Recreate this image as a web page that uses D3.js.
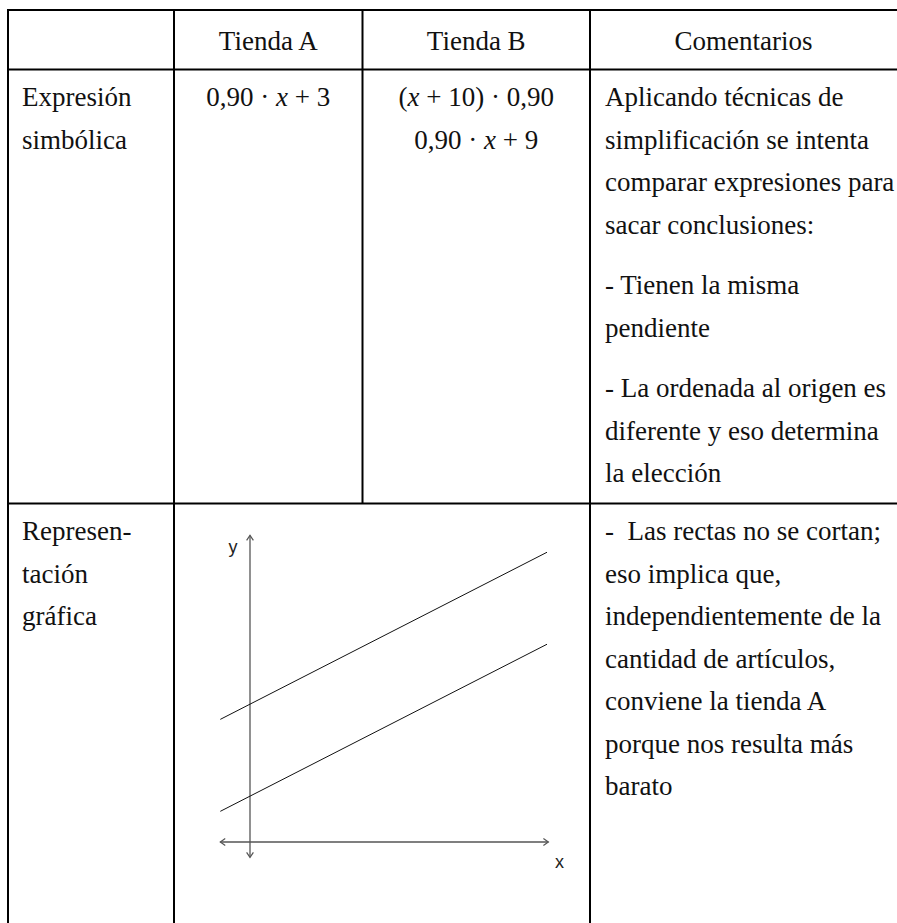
<!DOCTYPE html>
<html>
<head>
<meta charset="utf-8">
<script src="https://cdn.jsdelivr.net/npm/d3@7"></script>
<style>
  html, body { margin: 0; padding: 0; background: #fff; }
  svg { display: block; }
  text { white-space: pre; }
</style>
</head>
<body>
<svg id="chart" width="897" height="923"></svg>
<script>
// ---------- data ----------
const headers = ["", "Tienda A", "Tienda B", "Comentarios"];
const rowLabels = [["Expresión", "simbólica"], ["Represen-", "tación", "gráfica"]];
// math expressions: segments [text, italic]
const exprA = [[["0,90 · ", false], ["x", true], [" + 3", false]]];
const exprB = [
  [["(", false], ["x", true], [" + 10) · 0,90", false]],
  [["0,90 · ", false], ["x", true], [" + 9", false]]
];
const comments1 = [
  ["Aplicando técnicas de", "simplificación se intenta", "comparar expresiones para", "sacar conclusiones:"],
  ["- Tienen la misma", "pendiente"],
  ["- La ordenada al origen es", "diferente y eso determina", "la elección"]
];
const comments2 = [
  ["-  Las rectas no se cortan;", "eso implica que,", "independientemente de la", "cantidad de artículos,", "conviene la tienda A", "porque nos resulta más", "barato"]
];
// graph series (endpoints of the drawn lines)
const lineA = [[-1.1, 2.0], [11.0, 12.9]];   // 0,90·x + 3
const lineB = [[-1.1, 8.0], [11.0, 18.9]];   // 0,90·x + 9
const xAxisExtent = [-1.1, 11.05];
const yAxisExtent = [-1.0, 20.0];
const axisLabels = ["x", "y"];

// ---------- layout ----------
const svg = d3.select("#chart");
const colX = [8, 174, 362.5, 590, 905];
const rowY = [10, 69.5, 503.5, 940];
const fontSerif = "'Liberation Serif', 'Times New Roman', serif";
const fontSans = "'Liberation Sans', Arial, sans-serif";
const fs = 27;
const pitch = 42.5;
const paraGap = 18;
const firstOff = 36.5;
const padL = 14;

// table grid
const g = svg.append("g").attr("stroke", "#000").attr("stroke-width", 2);
[rowY[0], rowY[1], rowY[2]].forEach(y => {
  g.append("line").attr("x1", colX[0] - 1).attr("x2", colX[4]).attr("y1", y).attr("y2", y);
});
g.append("line").attr("x1", colX[0]).attr("x2", colX[0]).attr("y1", rowY[0] - 1).attr("y2", rowY[3]);
g.append("line").attr("x1", colX[1]).attr("x2", colX[1]).attr("y1", rowY[0]).attr("y2", rowY[3]);
g.append("line").attr("x1", colX[2]).attr("x2", colX[2]).attr("y1", rowY[0]).attr("y2", rowY[2]);
g.append("line").attr("x1", colX[3]).attr("x2", colX[3]).attr("y1", rowY[0]).attr("y2", rowY[3]);

const T = svg.append("g").attr("font-family", fontSerif).attr("font-size", fs).attr("fill", "#111");

// headers
headers.forEach((h, i) => {
  if (!h) return;
  const cx = i === 3 ? (colX[3] + 897) / 2 : (colX[i] + colX[i + 1]) / 2;
  T.append("text").attr("x", cx).attr("y", 50).attr("text-anchor", "middle").text(h);
});

// row labels
rowLabels.forEach((lines, r) => {
  lines.forEach((s, k) => {
    T.append("text").attr("x", colX[0] + padL).attr("y", rowY[r + 1] + firstOff + k * pitch).text(s);
  });
});

// math expressions
function drawExpr(list, cx, top) {
  list.forEach((segs, k) => {
    const t = T.append("text").attr("x", cx).attr("y", top + firstOff + k * pitch).attr("text-anchor", "middle");
    segs.forEach(([s, it]) => {
      t.append("tspan").attr("font-style", it ? "italic" : "normal").text(s);
    });
  });
}
drawExpr(exprA, (colX[1] + colX[2]) / 2, rowY[1]);
drawExpr(exprB, (colX[2] + colX[3]) / 2, rowY[1]);

// comments
function drawParas(paras, top) {
  let y = top + firstOff;
  paras.forEach((p, pi) => {
    if (pi > 0) y += paraGap;
    p.forEach(s => {
      T.append("text").attr("x", colX[3] + 15).attr("y", y).text(s);
      y += pitch;
    });
  });
}
drawParas(comments1, rowY[1]);
drawParas(comments2, rowY[2]);

// ---------- graph ----------
const x = d3.scaleLinear().domain([0, 10]).range([250, 520]);
const y = d3.scaleLinear().domain([0, 20]).range([842, 535.4]);
const G = svg.append("g");
const axisColor = "#555";

function arrow(px, py, dir) {
  const L = 6, a = 0.6;
  const p1 = [px - L * Math.cos(dir - a), py - L * Math.sin(dir - a)];
  const p2 = [px - L * Math.cos(dir + a), py - L * Math.sin(dir + a)];
  G.append("path").attr("d", `M${p1}L${px},${py}L${p2}`)
    .attr("fill", "none").attr("stroke", axisColor).attr("stroke-width", 1.2);
}
// x axis
G.append("line").attr("x1", x(xAxisExtent[0])).attr("x2", x(xAxisExtent[1]))
  .attr("y1", y(0)).attr("y2", y(0)).attr("stroke", axisColor).attr("stroke-width", 1.3);
arrow(x(xAxisExtent[0]), y(0), Math.PI);
arrow(x(xAxisExtent[1]), y(0), 0);
// y axis
G.append("line").attr("x1", x(0)).attr("x2", x(0))
  .attr("y1", y(yAxisExtent[0])).attr("y2", y(yAxisExtent[1])).attr("stroke", axisColor).attr("stroke-width", 1.3);
arrow(x(0), y(yAxisExtent[1]), -Math.PI / 2);
arrow(x(0), y(yAxisExtent[0]), Math.PI / 2);

const lineGen = d3.line().x(d => x(d[0])).y(d => y(d[1]));
[lineA, lineB].forEach(d => {
  G.append("path").attr("d", lineGen(d)).attr("fill", "none").attr("stroke", "#111").attr("stroke-width", 1);
});

G.append("text").attr("x", x(11.3)).attr("y", y(0) + 26).attr("font-family", fontSans)
  .attr("font-size", 18).attr("fill", "#222").text(axisLabels[0]);
G.append("text").attr("x", x(-0.8)).attr("y", y(18.2) - 10).attr("font-family", fontSans)
  .attr("font-size", 18).attr("fill", "#222").text(axisLabels[1]);
</script>
</body>
</html>
